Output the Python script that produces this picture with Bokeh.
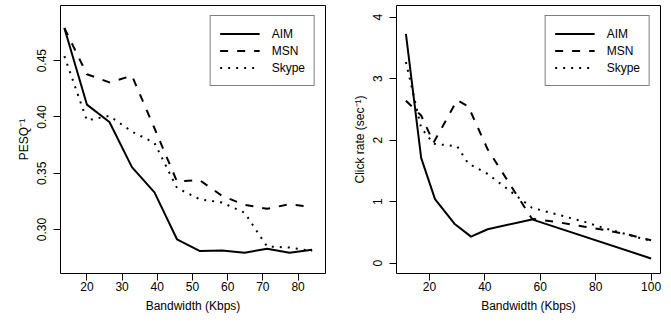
from bokeh.plotting import figure
from bokeh.layouts import row
from bokeh.models import FixedTicker, Legend, LegendItem, NumeralTickFormatter
from bokeh.embed import file_html
from bokeh.resources import INLINE

# ---- Left panel data (PESQ^-1 vs bandwidth) ----
left_bw = [13.6, 20.0, 26.4, 32.8, 39.2, 45.6, 52.0, 58.4, 64.8, 71.2, 77.6, 84.0]
left_aim = [0.479, 0.411, 0.3955, 0.3555, 0.333, 0.2914, 0.281, 0.2815, 0.2795, 0.283, 0.2795, 0.282]
left_msn = [0.479, 0.438, 0.4307, 0.4366, 0.390, 0.3427, 0.344, 0.330, 0.322, 0.3185, 0.3225, 0.320]
left_skype = [0.454, 0.397, 0.401, 0.387, 0.377, 0.337, 0.327, 0.324, 0.315, 0.285, 0.284, 0.281]
left_xticks = [20, 30, 40, 50, 60, 70, 80]
left_yticks = [0.30, 0.35, 0.40, 0.45]

# ---- Right panel data (click rate vs bandwidth) ----
right_aim_bw = [11.5, 17, 22, 29, 35, 41, 57, 100]
right_aim = [3.73, 1.71, 1.04, 0.64, 0.43, 0.55, 0.71, 0.075]
right_bw = [11.5, 17, 21.5, 30, 34, 41, 57, 67, 76, 83, 91, 100]
right_msn = [2.64, 2.40, 1.96, 2.65, 2.55, 1.85, 0.72, 0.66, 0.59, 0.54, 0.47, 0.37]
right_skype = [3.27, 2.20, 1.94, 1.90, 1.62, 1.45, 0.90, 0.78, 0.67, 0.57, 0.47, 0.36]
right_xticks = [20, 40, 60, 80, 100]
right_yticks = [0, 1, 2, 3, 4]

series_names = ["AIM", "MSN", "Skype"]

FONT = "Liberation Sans"
FS = "12px"
DASHES = {"AIM": "solid", "MSN": "8 9", "Skype": "2 6"}


def style(p, xlabel, ylabel, xticks, yticks, yfmt):
    p.xgrid.visible = False
    p.ygrid.visible = False
    p.outline_line_color = "black"
    p.outline_line_width = 1
    p.background_fill_color = "white"
    p.border_fill_color = "white"
    for ax in (p.xaxis[0], p.yaxis[0]):
        ax.axis_line_color = None
        ax.major_tick_out = 7
        ax.major_tick_in = 0
        ax.major_tick_line_color = "black"
        ax.minor_tick_line_color = None
        ax.major_label_text_font = FONT
        ax.major_label_text_font_size = FS
        ax.major_label_text_color = "black"
        ax.axis_label_text_font = FONT
        ax.axis_label_text_font_size = FS
        ax.axis_label_text_font_style = "normal"
        ax.axis_label_text_color = "black"
    p.xaxis[0].ticker = FixedTicker(ticks=xticks)
    p.yaxis[0].ticker = FixedTicker(ticks=yticks)
    p.yaxis[0].formatter = NumeralTickFormatter(format=yfmt)
    p.yaxis[0].major_label_orientation = "vertical"
    p.xaxis[0].axis_label = xlabel
    p.yaxis[0].axis_label = ylabel
    p.xaxis[0].major_label_standoff = 1
    p.xaxis[0].axis_label_standoff = 5
    p.yaxis[0].major_label_standoff = 7
    p.yaxis[0].axis_label_standoff = 4


def add_lines(p, xs_list, ys_list):
    items = []
    for name, xs, ys in zip(series_names, xs_list, ys_list):
        r = p.line(xs, ys, line_color="black", line_width=2,
                   line_dash=DASHES[name], line_join="round")
        items.append(LegendItem(label=name, renderers=[r]))
    leg = Legend(items=items, location="top_right", margin=10,
                 padding=9, spacing=0, glyph_width=40, glyph_height=17,
                 label_height=17, label_standoff=12,
                 label_text_font=FONT, label_text_font_size=FS,
                 label_text_color="black",
                 border_line_color="black", border_line_width=1,
                 background_fill_color="white", background_fill_alpha=1)
    p.add_layout(leg)


p1 = figure(frame_width=265, frame_height=268, x_range=(12.5, 87.8),
            y_range=(0.261, 0.499), output_backend="svg", toolbar_location=None,
            min_border_left=60, min_border_right=10, min_border_top=5,
            min_border_bottom=46)
style(p1, "Bandwidth (Kbps)", "PESQ\u207b\u00b9", left_xticks, left_yticks, "0.00")
add_lines(p1, [left_bw, left_bw, left_bw], [left_aim, left_msn, left_skype])

p2 = figure(frame_width=264, frame_height=268, x_range=(8.1, 103.4),
            y_range=(-0.17, 4.19), output_backend="svg", toolbar_location=None,
            min_border_left=61, min_border_right=8, min_border_top=5,
            min_border_bottom=46)
style(p2, "Bandwidth (Kbps)", "Click rate (sec\u207b\u00b9)", right_xticks, right_yticks, "0")
add_lines(p2, [right_aim_bw, right_bw, right_bw], [right_aim, right_msn, right_skype])

layout = row(p1, p2)

open("out.html", "w").write(file_html(layout, INLINE))
